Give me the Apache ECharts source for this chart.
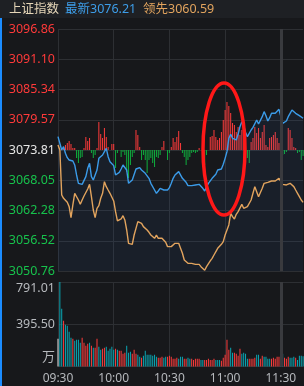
<!DOCTYPE html>
<html>
<head>
<meta charset="utf-8">
<script src="https://cdn.jsdelivr.net/npm/echarts@6/dist/echarts.min.js"></script>
<style>
  html, body { margin: 0; padding: 0; background: #17181b; }
  #main { width: 304px; height: 386px; }
</style>
</head>
<body>
<div id="main"></div>
<script>
var myChart = echarts.init(document.getElementById('main'));

// 上证指数 intraday, one point per minute from 09:30 (index 120 = 11:30)
var blue = [3076.35,3076.04,3073.81,3074.45,3073.18,3072.35,3071.91,3071.91,3071.72,3070.96,
  3069.05,3067.46,3067.15,3067.27,3067.65,3068.73,3070.32,3071.27,3068.73,3068.10,
  3068.42,3070.00,3072.22,3071.91,3072.86,3073.50,3074.13,3072.54,3071.59,3071.59,
  3070.83,3069.05,3069.18,3069.56,3070.19,3070.96,3071.27,3070.00,3067.46,3067.27,
  3068.10,3068.10,3070.19,3069.81,3070.45,3070.00,3070.32,3069.37,3069.05,3068.42,
  3067.46,3067.15,3066.19,3065.56,3066.00,3066.51,3066.83,3066.19,3066.00,3066.19,
  3066.64,3067.46,3068.42,3069.05,3069.18,3069.69,3069.56,3068.42,3068.54,3067.65,
  3067.02,3066.83,3067.02,3066.83,3067.15,3067.15,3067.27,3067.02,3066.51,3066.00,
  3066.83,3067.46,3067.78,3068.42,3068.73,3069.18,3070.00,3070.00,3070.19,3071.08,
  3072.22,3073.50,3076.04,3076.80,3076.04,3076.16,3075.72,3076.80,3078.26,3079.21,
  3078.45,3077.18,3076.35,3076.67,3077.62,3078.13,3077.94,3079.53,3078.77,3078.45,
  3080.16,3081.12,3080.35,3079.34,3079.97,3080.80,3080.48,3080.80,3081.12,3081.56,
  3081.75,3078.89,3078.70,3079.34,3080.16,3080.80,3081.43,3081.12,3080.80,3080.61,
  3080.35,3080.10,3079.85];

// 领先指标
var orange = [3074.77,3073.81,3065.24,3064.61,3064.92,3063.84,3063.02,3060.92,3063.34,3065.56,
  3065.49,3064.29,3063.46,3064.29,3065.05,3065.24,3066.38,3067.27,3064.92,3062.38,
  3060.92,3062.70,3063.21,3064.61,3065.56,3067.78,3066.83,3066.19,3065.56,3065.24,
  3064.10,3062.06,3060.29,3060.03,3060.67,3061.30,3060.48,3058.57,3056.03,3055.84,
  3055.84,3057.62,3058.89,3060.16,3059.84,3059.84,3059.21,3059.53,3058.57,3058.13,
  3057.62,3057.75,3056.99,3057.62,3056.99,3056.67,3056.99,3057.11,3056.22,3055.40,
  3055.08,3055.40,3055.08,3056.03,3055.72,3056.03,3055.08,3054.13,3052.86,3052.54,
  3052.22,3052.54,3052.22,3052.54,3052.03,3052.22,3052.03,3051.59,3051.27,3050.90,
  3051.59,3051.91,3052.67,3053.18,3053.81,3053.94,3055.08,3055.40,3055.84,3056.35,
  3057.62,3058.57,3059.53,3061.75,3061.11,3060.67,3061.56,3062.06,3062.38,3063.46,
  3062.70,3062.38,3063.02,3063.34,3064.29,3065.56,3066.83,3066.51,3064.92,3064.92,
  3066.51,3067.46,3067.27,3067.65,3067.78,3067.91,3068.10,3067.91,3067.91,3068.42,
  3068.73,3067.27,3067.15,3067.15,3067.27,3067.46,3067.46,3066.83,3066.19,3065.56,
  3064.92,3064.29,3063.84];

// red / green strength bars around the previous close
var power = [0,0,0,3,5,7,9,6,2,2,
  -8,-13,-8,-7,2,13,9,12,-3,-8,
  -5,2,28,16,12,22,13,3,0,6,
  6,-18,-3,0,-7,-2,-5,-22,-28,-15,
  -7,-3,20,15,3,-10,-5,-10,-23,-10,
  -8,-13,-17,-7,-8,-5,3,9,0,-10,
  -3,3,12,8,13,19,7,-3,-7,-15,
  -10,-7,-3,-2,-3,-2,2,0,-7,-15,
  -5,0,13,14,20,13,10,12,18,30,
  40,48,44,37,27,25,18,23,15,20,
  10,12,-8,-13,8,12,23,17,22,12,
  18,25,5,3,12,13,15,18,12,7,
  2,-5,-4,-2,22,20,12,3,2,-3,
  -2,-10,-6];

// volume (万) and direction: 1 up, -1 down, 0 opening
var vol = [259,791.01,540,428,390,381,325,269,259,240,
  250,250,222,269,222,194,212,222,194,175,
  175,259,184,156,166,175,184,147,166,184,
  156,166,156,147,147,119,128,194,128,137,
  119,156,119,109,91,81,100,147,109,109,
  109,100,109,91,81,81,91,81,91,91,
  100,91,72,72,81,72,91,91,72,72,
  81,72,72,62,72,72,72,62,62,62,
  62,72,62,62,72,62,62,62,53,81,
  109,250,156,175,128,128,119,100,166,119,
  128,119,72,72,72,72,81,109,109,72,
  100,91,91,72,72,72,81,72,91,91,
  306,119,81,72,91,81,81,91,81,62,
  100,100,95];
var volDir = [0,-1,-1,1,-1,-1,-1,-1,1,-1,
  -1,-1,-1,1,1,1,1,-1,1,-1,
  1,1,-1,-1,1,1,-1,-1,-1,-1,
  -1,1,-1,1,1,1,1,-1,-1,-1,
  1,1,1,-1,-1,1,-1,-1,-1,-1,
  -1,-1,-1,-1,1,1,1,-1,-1,1,
  1,1,1,1,1,-1,-1,-1,1,1,
  -1,-1,1,1,1,1,1,-1,-1,1,
  1,1,1,1,1,-1,-1,-1,1,1,
  1,1,1,-1,-1,1,1,1,1,-1,
  -1,-1,-1,1,1,1,1,-1,-1,1,
  1,-1,-1,-1,-1,1,1,1,1,1,
  -1,-1,1,1,1,-1,-1,-1,1,-1,
  -1,-1,-1];

var priceTicks = ['3050.76','3056.52','3062.28','3068.05','3073.81','3079.57','3085.34','3091.10','3096.86'];
var volTicks = ['万', '395.50', '791.01'];
var timeTicks = ['09:30', '10:00', '10:30', '11:00', '11:30'];
var header = [['上证指数', '#e6d6b8'], ['最新3076.21', '#3d9de8'], ['领先3060.59', '#e2a45e']];

function pad(n) { return n < 10 ? '0' + n : '' + n; }
var times = [];
for (var i = 0; i < blue.length; i++) {
    var m = i <= 120 ? 9 * 60 + 30 + i : 13 * 60 + (i - 120);
    times.push(pad(Math.floor(m / 60)) + ':' + pad(m % 60));
}

var FONT = '"Noto Sans", "Noto Sans CJK SC", sans-serif';
var gridColor = '#2d2f33';
var isTick = function (index, value) { return timeTicks.indexOf(value) >= 0; };
var noonLine = {
    silent: true,
    symbol: ['none', 'none'],
    label: {show: false},
    lineStyle: {color: '#393a3e', width: 3, type: 'solid'},
    data: [{xAxis: '11:30'}]
};

option = {
    backgroundColor: '#17181b',
    animation: false,
    textStyle: {fontFamily: FONT},
    grid: [
        {left: 58, top: 29, width: 245.1, height: 242, outerBoundsMode: 'none', containLabel: false},
        {left: 58, top: 282, width: 245.1, height: 84.5, outerBoundsMode: 'none', containLabel: false}
    ],
    xAxis: [
        {
            type: 'category', gridIndex: 0, data: times, boundaryGap: false,
            axisLine: {show: false}, axisTick: {show: false}, axisLabel: {show: false},
            splitLine: {show: true, interval: isTick, lineStyle: {color: gridColor, width: 1}}
        },
        {
            type: 'category', gridIndex: 1, data: times, boundaryGap: false,
            axisLine: {show: false}, axisTick: {show: false},
            axisLabel: {
                interval: isTick, color: '#b6b9bd', fontSize: 12, margin: 6,
                fontFamily: FONT, hideOverlap: false
            },
            splitLine: {show: true, interval: isTick, lineStyle: {color: gridColor, width: 1}}
        }
    ],
    yAxis: [
        {type: 'value', gridIndex: 0, position: 'left', min: parseFloat(priceTicks[0]), max: parseFloat(priceTicks[8]), show: false},
        {
            type: 'value', gridIndex: 0, position: 'left', min: -4, max: 4, interval: 1,
            axisLine: {show: false}, axisTick: {show: false},
            splitLine: {lineStyle: {color: gridColor, width: 1}},
            axisLabel: {
                margin: 3, fontSize: 12.5, fontFamily: FONT,
                formatter: function (v) { return priceTicks[Math.round(v) + 4]; },
                color: function (v) {
                    v = Math.round(v);
                    return v > 0 ? '#ff3a3a' : (v < 0 ? '#17c24c' : '#e6e6e6');
                }
            }
        },
        {type: 'value', gridIndex: 0, position: 'left', min: -121, max: 121, show: false},
        {type: 'value', gridIndex: 1, position: 'left', min: 0, max: parseFloat(volTicks[2]), show: false},
        {
            type: 'value', gridIndex: 1, position: 'left', min: 0, max: 2, interval: 1,
            axisLine: {show: false}, axisTick: {show: false},
            splitLine: {lineStyle: {color: gridColor, width: 1}},
            axisLabel: {
                margin: 3, color: '#b6b9bd', fontSize: 12.5, fontFamily: FONT,
                formatter: function (v) {
                    var k = Math.round(v);
                    return '{v' + k + '|' + volTicks[k] + '}';
                },
                rich: {
                    v0: {color: '#b6b9bd', fontSize: 13, fontFamily: FONT, padding: [0, 0, 19, 0]},
                    v1: {color: '#b6b9bd', fontSize: 12.5, fontFamily: FONT},
                    v2: {color: '#b6b9bd', fontSize: 12.5, fontFamily: FONT, padding: [12, 0, 0, 0]}
                }
            }
        }
    ],
    graphic: [
        {type: 'rect', shape: {x: 0, y: 0, width: 304, height: 18}, style: {fill: '#1e2024'}, z: 0},
        {type: 'rect', shape: {x: 0, y: 18, width: 2, height: 368}, style: {fill: '#1b8cff'}, z: 10},
        {type: 'text', x: 9, y: 9, style: {text: header[0][0], fill: header[0][1], font: '12.5px ' + FONT, verticalAlign: 'middle'}, z: 10},
        {type: 'text', x: 65, y: 9, style: {text: header[1][0], fill: header[1][1], font: '12.5px ' + FONT, verticalAlign: 'middle'}, z: 10},
        {type: 'text', x: 143, y: 9, style: {text: header[2][0], fill: header[2][1], font: '12.5px ' + FONT, verticalAlign: 'middle'}, z: 10},
        {type: 'ellipse', shape: {cx: 224, cy: 149, rx: 21, ry: 66}, style: {fill: 'none', stroke: '#ff1818', lineWidth: 3.5}, z: 100}
    ],
    series: [
        {
            name: 'power', type: 'bar', xAxisIndex: 0, yAxisIndex: 2, barWidth: 1, z: 2,
            data: power,
            itemStyle: {
                color: function (p) { return p.value >= 0 ? '#ff3b3b' : '#0fae3e'; }
            }
        },
        {
            name: '最新', type: 'line', xAxisIndex: 0, yAxisIndex: 0, data: blue, z: 4,
            showSymbol: false, symbol: 'none',
            lineStyle: {color: '#3b9be8', width: 1.4},
            areaStyle: {color: 'rgba(50,110,190,0.13)', origin: 'start'},
            markLine: noonLine
        },
        {
            name: '领先', type: 'line', xAxisIndex: 0, yAxisIndex: 0, data: orange, z: 4,
            showSymbol: false, symbol: 'none',
            lineStyle: {color: '#e2a45e', width: 1.4}
        },
        {
            name: '成交量', type: 'bar', xAxisIndex: 1, yAxisIndex: 3, barWidth: 1, z: 2,
            data: vol,
            itemStyle: {
                color: function (p) {
                    var d = volDir[p.dataIndex];
                    return d > 0 ? '#ff3c3c' : (d < 0 ? '#0aa7b4' : '#e8e8e8');
                }
            },
            markLine: noonLine
        }
    ]
};

myChart.setOption(option);
</script>
</body>
</html>
